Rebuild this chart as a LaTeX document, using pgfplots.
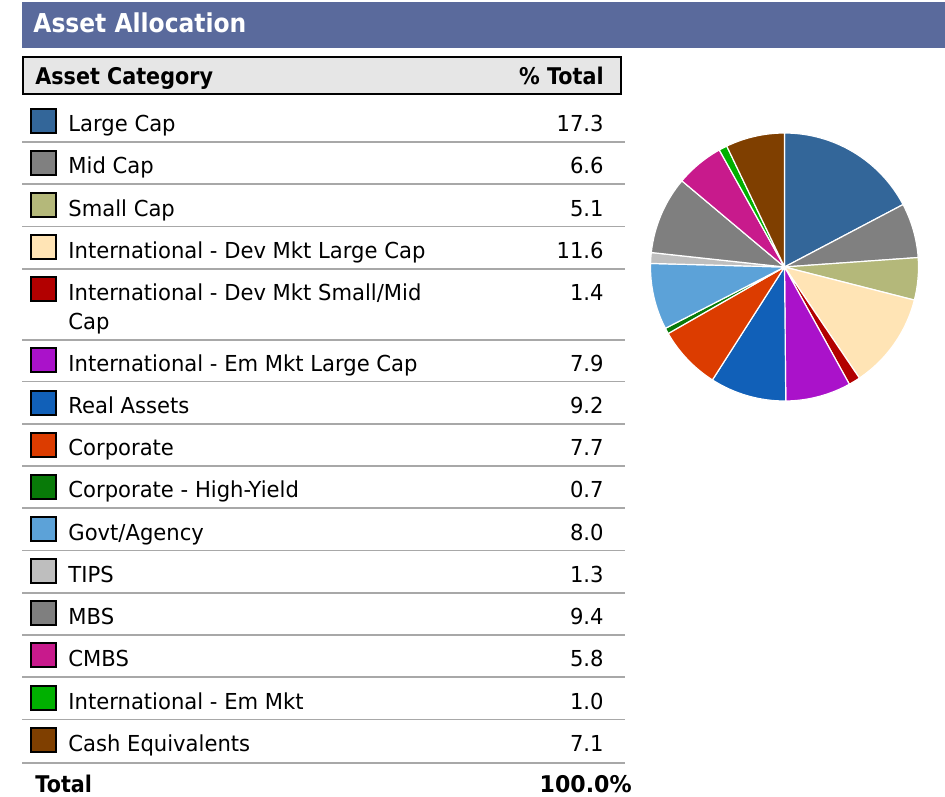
\documentclass[border=0pt]{standalone}
\usepackage{fontspec}
\setmainfont[FakeStretch=0.96]{DejaVu Sans}
\newfontfamily\headfont[FakeStretch=0.9]{DejaVu Sans}
\usepackage{pgfplots}
\usepackage{pgfplotstable}
\pgfplotsset{compat=1.18}

\definecolor{titlebar}{HTML}{5A6A9C}
\definecolor{headfill}{HTML}{E6E6E6}
\definecolor{sepgray}{HTML}{A8A8A8}
\definecolor{cLarge}{HTML}{336699}
\definecolor{cMid}{HTML}{808080}
\definecolor{cSmall}{HTML}{B4B87A}
\definecolor{cDevL}{HTML}{FFE4B5}
\definecolor{cDevS}{HTML}{B20000}
\definecolor{cEmL}{HTML}{AA12CA}
\definecolor{cReal}{HTML}{1160B8}
\definecolor{cCorp}{HTML}{DC3C00}
\definecolor{cHY}{HTML}{087A08}
\definecolor{cGovt}{HTML}{5CA2D8}
\definecolor{cTips}{HTML}{BEBEBE}
\definecolor{cMBS}{HTML}{7F7F7F}
\definecolor{cCMBS}{HTML}{C81A8C}
\definecolor{cEm}{HTML}{00B000}
\definecolor{cCash}{HTML}{7F3F00}

% share of each category, in table order (clockwise from 12 o'clock)
\pgfplotstableread[col sep=comma]{
val,col
17.3,cLarge
6.6,cMid
5.1,cSmall
11.6,cDevL
1.4,cDevS
7.9,cEmL
9.2,cReal
7.7,cCorp
0.7,cHY
8.0,cGovt
1.3,cTips
9.4,cMBS
5.8,cCMBS
1.0,cEm
7.1,cCash
}\pietable

% one table row: baseline, colour, label, value
\newcommand\arow[4]{%
  \filldraw[fill=#2, draw=black, line width=1pt] (axis cs:31,{#1-23}) rectangle (axis cs:56,{#1+1});
  \node[anchor=base west, inner sep=0pt] at (axis cs:68,#1) {#3};
  \node[anchor=base east, inner sep=0pt] at (axis cs:604,#1) {#4};
}
\newcommand\sep[1]{\draw[sepgray, line width=0.6pt] (axis cs:22,#1) -- (axis cs:625,#1);}

\begin{document}
\begin{tikzpicture}
\begin{axis}[scale only axis, width=472.5pt, height=398pt,
  xmin=0, xmax=945, ymin=0, ymax=796, y dir=reverse,
  hide axis, clip=false, font=\fontsize{11}{13}\selectfont]
% title bar
\fill[titlebar] (axis cs:22,2) rectangle (axis cs:945,48);
\node[anchor=base west, inner sep=0pt, text=white, font=\headfont\fontsize{13}{15}\selectfont\bfseries] at (axis cs:33,33) {Asset Allocation};
% header
\filldraw[fill=headfill, draw=black, line width=1pt] (axis cs:23,57) rectangle (axis cs:621,94);
\node[anchor=base west, inner sep=0pt, font=\headfont\fontsize{11.5}{13}\selectfont\bfseries] at (axis cs:35,85) {Asset Category};
\node[anchor=base east, inner sep=0pt, font=\headfont\fontsize{11.5}{13}\selectfont\bfseries] at (axis cs:604,85) {\% Total};
% rows
\arow{132}{cLarge}{Large Cap}{17.3}\sep{142}
\arow{174}{cMid}{Mid Cap}{6.6}\sep{184}
\arow{216.5}{cSmall}{Small Cap}{5.1}\sep{226.5}
\arow{258.5}{cDevL}{International - Dev Mkt Large Cap}{11.6}\sep{269}
\arow{300}{cDevS}{International - Dev Mkt Small/Mid}{1.4}
\node[anchor=base west, inner sep=0pt] at (axis cs:68,329) {Cap};
\sep{340}
\arow{371}{cEmL}{International - Em Mkt Large Cap}{7.9}\sep{381.5}
\arow{413.5}{cReal}{Real Assets}{9.2}\sep{424}
\arow{455.5}{cCorp}{Corporate}{7.7}\sep{466}
\arow{497.5}{cHY}{Corporate - High-Yield}{0.7}\sep{508}
\arow{540}{cGovt}{Govt/Agency}{8.0}\sep{550.5}
\arow{582}{cTips}{TIPS}{1.3}\sep{593}
\arow{624}{cMBS}{MBS}{9.4}\sep{635}
\arow{666}{cCMBS}{CMBS}{5.8}\sep{677}
\arow{709}{cEm}{International - Em Mkt}{1.0}\sep{719.5}
\arow{751}{cCash}{Cash Equivalents}{7.1}\sep{763}
\node[anchor=base west, inner sep=0pt, font=\headfont\fontsize{11.5}{13}\selectfont\bfseries] at (axis cs:35,792) {Total};
\node[anchor=base east, inner sep=0pt, font=\fontsize{11.5}{13}\selectfont\bfseries] at (axis cs:632,792) {100.0\%};
% pie
\pgfplotsextra{
  \pgfplotstablegetrowsof{\pietable}
  \pgfmathtruncatemacro\lastrow{\pgfplotsretval-1}
  \def\pietotal{0}
  \pgfplotsforeachungrouped \i in {0,...,\lastrow}{%
    \pgfplotstablegetelem{\i}{val}\of\pietable
    \pgfmathsetmacro\pietotal{\pietotal+\pgfplotsretval}}
  \pgfmathsetmacro\degper{360/\pietotal}
  \def\cum{0}
  \pgfplotsforeachungrouped \i in {0,...,\lastrow}{%
    \pgfplotstablegetelem{\i}{val}\of\pietable \let\sliceval\pgfplotsretval
    \pgfplotstablegetelem{\i}{col}\of\pietable \let\slicecol\pgfplotsretval
    \pgfmathsetmacro\aS{90-\degper*\cum}
    \pgfmathsetmacro\cum{\cum+\sliceval}
    \pgfmathsetmacro\aE{90-\degper*\cum}
    \filldraw[fill=\slicecol, draw=white, line width=0.6pt, line join=round]
      (axis cs:784.5,267) -- ++(\aS:67pt) arc[start angle=\aS, end angle=\aE, radius=67pt] -- cycle;
  }
}
\end{axis}
\pgfresetboundingbox
\path[use as bounding box] (current axis.south west) rectangle (current axis.north east);
\end{tikzpicture}
\end{document}
